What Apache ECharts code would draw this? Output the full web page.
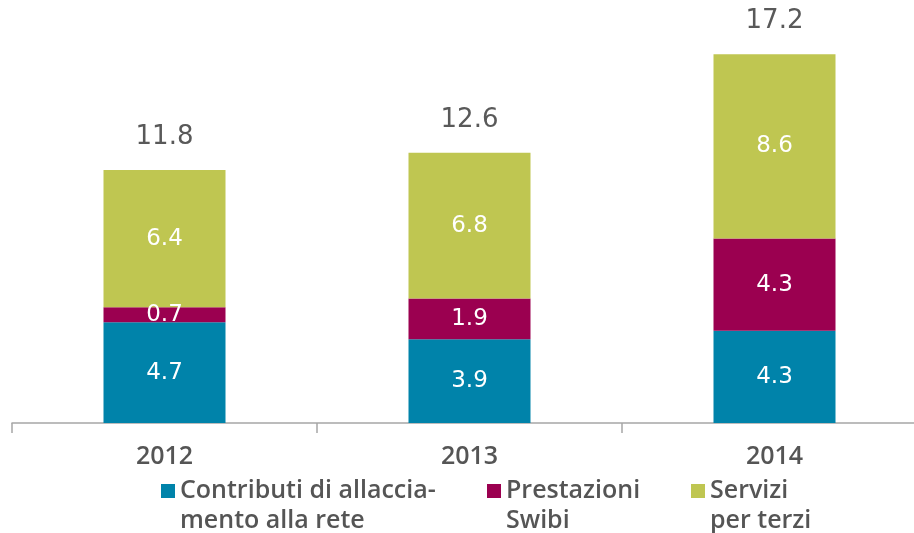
<!DOCTYPE html>
<html>
<head>
<meta charset="utf-8">
<script src="https://cdn.jsdelivr.net/npm/echarts@6/dist/echarts.min.js"></script>
<style>
  html, body { margin: 0; padding: 0; background: #fff; overflow: hidden; }
  /* l'asse prosegue oltre il bordo destro, come nell'originale */
  #chart { width: 927px; height: 533px; }
</style>
</head>
<body>
<div id="chart"></div>
<script>
    var years = ['2012', '2013', '2014'];
    var contributi = [4.7, 3.9, 4.3];
    var prestazioni = [0.7, 1.9, 4.3];
    var servizi = [6.4, 6.8, 8.6];
    var totals = [11.8, 12.6, 17.2];
    var seriesNames = ['Contributi di allaccia-\nmento alla rete', 'Prestazioni\nSwibi', 'Servizi\nper terzi'];
    var colors = ['#0083AA', '#9B0050', '#BFC651'];

    var myChart = echarts.init(document.getElementById('chart'));

    // quadratino in alto, il resto del box vuoto (cosi' l'icona sta sulla prima riga)
    var legendIcon = 'path://M0,0H14V14H0Z M0,44L0.001,44';
    var legendLeft = [161, 487, 691];

    var legends = [];
    for (var i = 0; i < seriesNames.length; i++) {
        legends.push({
            left: legendLeft[i],
            top: 476,
            padding: 0,
            itemWidth: 14,
            itemHeight: 44,
            icon: legendIcon,
            textStyle: {
                color: '#555',
                fontSize: 25,
                fontWeight: 600,
                fontFamily: 'Open Sans',
                lineHeight: 30
            },
            data: [seriesNames[i]]
        });
    }

    var innerLabel = {
        show: true,
        position: 'inside',
        color: '#fff',
        fontSize: 23,
        fontFamily: 'DejaVu Sans'
    };

    var option = {
        animation: false,
        grid: {
            left: 12,
            right: 0,
            top: 37,
            bottom: 110
        },
        legend: legends,
        xAxis: {
            type: 'category',
            data: years,
            axisLine: { lineStyle: { color: '#A6A6A6', width: 1.5 } },
            axisTick: { show: true, length: 10, lineStyle: { color: '#A6A6A6', width: 1.5 } },
            axisLabel: {
                color: '#555',
                fontSize: 25,
                fontWeight: 600,
                fontFamily: 'Open Sans',
                margin: 21
            }
        },
        yAxis: {
            type: 'value',
            min: 0,
            max: 18,
            show: false,
            splitLine: { show: false }
        },
        series: [
            {
                name: seriesNames[0],
                type: 'bar',
                stack: 'tot',
                barWidth: '40%',
                data: contributi,
                itemStyle: { color: colors[0] },
                label: innerLabel
            },
            {
                name: seriesNames[1],
                type: 'bar',
                stack: 'tot',
                data: prestazioni,
                itemStyle: { color: colors[1] },
                label: innerLabel
            },
            {
                name: seriesNames[2],
                type: 'bar',
                stack: 'tot',
                data: servizi,
                itemStyle: { color: colors[2] },
                label: innerLabel
            },
            {
                // etichette dei totali sopra le barre
                type: 'bar',
                stack: 'tot',
                data: [0, 0, 0],
                itemStyle: { color: 'transparent' },
                label: {
                    show: true,
                    position: 'top',
                    distance: 20,
                    color: '#595959',
                    fontSize: 26,
                    fontFamily: 'DejaVu Sans',
                    formatter: function (p) {
                        return totals[p.dataIndex].toFixed(1);
                    }
                }
            }
        ]
    };

    myChart.setOption(option);
</script>
</body>
</html>
